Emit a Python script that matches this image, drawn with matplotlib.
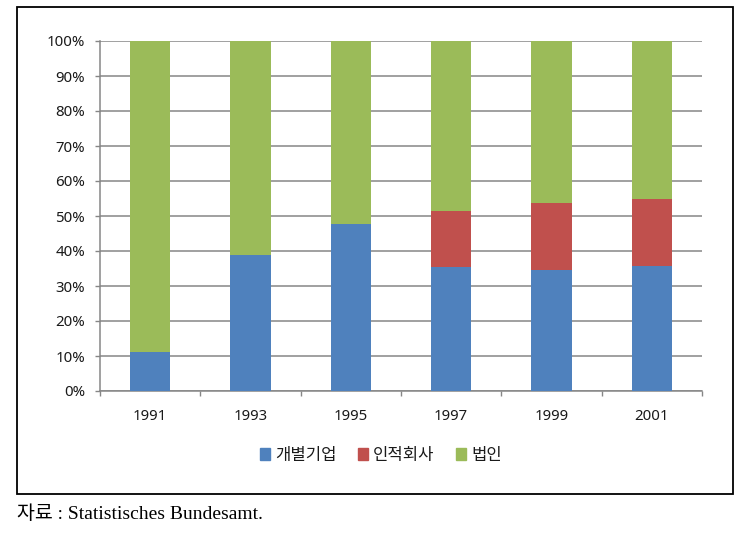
import matplotlib
matplotlib.use("Agg")
import matplotlib.pyplot as plt
from matplotlib.patches import Rectangle, Patch
import numpy as np

plt.rcParams['font.family'] = ['Noto Sans', 'Noto Sans CJK KR', 'DejaVu Sans']

years = ['1991', '1993', '1995', '1997', '1999', '2001']
series_names = ['개별기업', '인적회사', '법인']
individual = [11.1, 38.9, 47.7, 35.3, 34.5, 35.7]
partnership = [0.0, 0.0, 0.0, 16.0, 19.3, 19.2]
corporation = [88.9, 61.1, 52.3, 48.7, 46.2, 45.1]
y_ticks = [0, 10, 20, 30, 40, 50, 60, 70, 80, 90, 100]

colors = ['#4F81BD', '#C0504D', '#9BBB59']
grid_c = '#868686'
text_c = '#1a1a1a'

W, H = 755, 533
fig = plt.figure(figsize=(W/100, H/100), dpi=100)
ax = fig.add_axes([100/W, 1-391/H, 602/W, 350/H])

x = np.arange(len(years))
bw = 0.4
bottom = np.zeros(len(years))
for vals, c in zip([individual, partnership, corporation], colors):
    ax.bar(x, vals, bw, bottom=bottom, color=c, zorder=3, linewidth=0)
    bottom += np.array(vals)

ax.set_xlim(-0.5, len(years)-0.5)
ax.set_ylim(0, 100)
ax.set_yticks(y_ticks)
ax.set_yticklabels([f'{t}%' for t in y_ticks], fontsize=10.8, color=text_c)
ax.yaxis.grid(True, color=grid_c, linewidth=1.1, zorder=0)
ax.tick_params(axis='y', length=3.6, width=1, color=grid_c, pad=7)

ax.set_xticks(x)
ax.set_xticklabels(years, fontsize=10.8, color=text_c)
ax.set_xticks(np.arange(-0.5, len(years), 1.0), minor=True)
ax.tick_params(axis='x', which='major', length=0, pad=13)
ax.tick_params(axis='x', which='minor', length=3.6, width=1, color=grid_c)

for s in ['top', 'right']:
    ax.spines[s].set_visible(False)
for s in ['left', 'bottom']:
    ax.spines[s].set_color(grid_c)
    ax.spines[s].set_linewidth(1.1)

handles = [Patch(color=c, label=n) for c, n in zip(colors, series_names)]
fig.legend(handles=handles, loc='center', bbox_to_anchor=(381/W, 1-456/H), ncol=3,
           frameon=False, fontsize=12, handlelength=0.6, handleheight=0.75,
           handletextpad=0.3, columnspacing=1.3, labelcolor=text_c)

fig.patches.append(Rectangle((17/W, 1-494/H), (733-17)/W, (494-7)/H,
                             transform=fig.transFigure, fill=False,
                             edgecolor='black', linewidth=1.3))

fig.text(17/W, 1-514/H, '자료 : Statistisches Bundesamt.', fontsize=14,
         family=['Liberation Serif', 'Noto Sans CJK KR'], va='center', ha='left')

fig.savefig('out.png', dpi=100)
